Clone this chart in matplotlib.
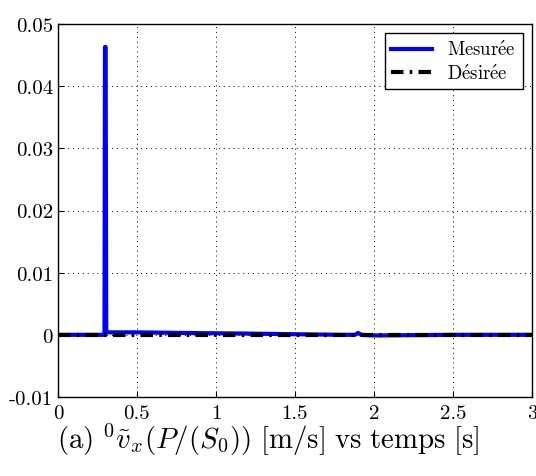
import matplotlib
matplotlib.use("Agg")
import matplotlib.pyplot as plt
import numpy as np

plt.rcParams["font.family"] = ["cmr10", "DejaVu Serif"]
plt.rcParams["mathtext.fontset"] = "cm"
plt.rcParams["axes.unicode_minus"] = False

t_mes = [0.0, 0.295, 0.298, 0.302, 0.306, 0.5, 0.8, 1.2, 1.5, 1.8, 1.88, 1.9, 1.92, 2.0, 2.5, 3.0]
v_mes = [0.0, 0.0, 0.0463, 0.0463, 0.0004, 0.0004, 0.0003, 0.0002, 0.0001, 0.0, 0.0, 0.0003, 0.0, -0.0001, 0.0, 0.0]
# desired velocity
t_des = [0.0, 3.0]
v_des = [0.0, 0.0]

fig = plt.figure(figsize=(5.36, 4.77), dpi=100)
ax = fig.add_axes([0.108, 0.1656, 0.8845, 0.782])

ax.plot(t_mes, v_mes, color="#0000ff", lw=3, label=r"$\mathrm{Mesur\acute{e}e}$")
ax.plot(t_des, v_des, color="black", lw=3, ls=(0, (3, 1.5, 0.6, 1.5)),
        label=r"$\mathrm{D\acute{e}sir\acute{e}e}$")

ax.set_xlim(0, 3)
ax.set_ylim(-0.01, 0.05)
ax.set_xticks([0, 0.5, 1, 1.5, 2, 2.5, 3])
ax.set_xticklabels(["0", "0.5", "1", "1.5", "2", "2.5", "3"])
ax.set_yticks([-0.01, 0, 0.01, 0.02, 0.03, 0.04, 0.05])
ax.set_yticklabels(["-0.01", "0", "0.01", "0.02", "0.03", "0.04", "0.05"])
ax.tick_params(labelsize=15, direction="in", length=4, width=0.8)
ax.tick_params(axis="x", pad=5)
ax.grid(True, ls=(0, (1, 4)), color="black", lw=0.7)
for s in ax.spines.values():
    s.set_linewidth(1.0)

leg = ax.legend(loc="upper right", fontsize=13.5, fancybox=False, edgecolor="black",
                framealpha=1, handlelength=2.2, borderaxespad=0.5, borderpad=0.35,
                labelspacing=0.25)
leg.get_frame().set_linewidth(1.0)

fig.text(0.5, 0.077, r"$\mathrm{(a)}\ {}^0\tilde{v}_x(P/(S_0))\ \mathrm{[m/s]\ vs\ temps\ [s]}$",
         ha="center", va="center", fontsize=20.8)

fig.savefig("out.png", dpi=100)
